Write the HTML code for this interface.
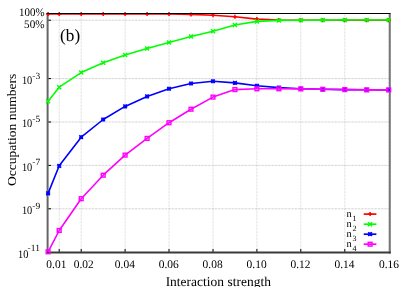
<!DOCTYPE html>
<html><head><meta charset="utf-8"><title>plot</title>
<style>
html,body{margin:0;padding:0;background:#fff;}
body{width:409px;height:287px;overflow:hidden;}
svg{display:block;will-change:transform;}
text{font-family:"Liberation Serif",serif;fill:#000;}
</style></head><body>
<svg width="409" height="287" viewBox="0 0 409 287">
<rect x="0" y="0" width="409" height="287" fill="#fff"/>
<g stroke="#a4a4a4" stroke-width="0.5" stroke-dasharray="0.7,0.73" fill="none">
<line x1="59.2" y1="13.5" x2="59.2" y2="252.5"/>
<line x1="81.2" y1="13.5" x2="81.2" y2="252.5"/>
<line x1="125.1" y1="13.5" x2="125.1" y2="252.5"/>
<line x1="169.0" y1="13.5" x2="169.0" y2="252.5"/>
<line x1="213.0" y1="13.5" x2="213.0" y2="252.5"/>
<line x1="256.9" y1="13.5" x2="256.9" y2="252.5"/>
<line x1="300.8" y1="13.5" x2="300.8" y2="252.5"/>
<line x1="344.8" y1="13.5" x2="344.8" y2="252.5"/>
<line x1="388.7" y1="13.5" x2="388.7" y2="252.5"/>
</g>
<g stroke="#989898" stroke-width="0.6" stroke-dasharray="0.75,0.68" fill="none">
<line x1="47.6" y1="20.2" x2="389.8" y2="20.2"/>
<line x1="47.6" y1="78.6" x2="389.8" y2="78.6"/>
<line x1="47.6" y1="122.0" x2="389.8" y2="122.0"/>
<line x1="47.6" y1="165.4" x2="389.8" y2="165.4"/>
<line x1="47.6" y1="208.8" x2="389.8" y2="208.8"/>
</g>
<g stroke="#000" stroke-width="1" fill="none">
<line x1="59.2" y1="252.5" x2="59.2" y2="249.0"/>
<line x1="81.2" y1="252.5" x2="81.2" y2="249.0"/>
<line x1="125.1" y1="252.5" x2="125.1" y2="249.0"/>
<line x1="169.0" y1="252.5" x2="169.0" y2="249.0"/>
<line x1="213.0" y1="252.5" x2="213.0" y2="249.0"/>
<line x1="256.9" y1="252.5" x2="256.9" y2="249.0"/>
<line x1="300.8" y1="252.5" x2="300.8" y2="249.0"/>
<line x1="344.8" y1="252.5" x2="344.8" y2="249.0"/>
<line x1="47.6" y1="20.2" x2="51.1" y2="20.2"/>
<line x1="47.6" y1="78.6" x2="51.1" y2="78.6"/>
<line x1="47.6" y1="122.0" x2="51.1" y2="122.0"/>
<line x1="47.6" y1="165.4" x2="51.1" y2="165.4"/>
<line x1="47.6" y1="208.8" x2="51.1" y2="208.8"/>
</g>
<line x1="389.8" y1="13.5" x2="389.8" y2="253.5" stroke="#777" stroke-width="2"/>
<line x1="47.6" y1="13.0" x2="47.6" y2="253.5" stroke="#666" stroke-width="2"/>
<line x1="46.6" y1="252.5" x2="390.8" y2="252.5" stroke="#3a3a3a" stroke-width="1.8"/>
<polyline points="48.1,13.9 59.2,13.9 81.2,13.9 103.2,13.9 125.1,13.9 147.1,13.9 169.0,14.0 191.0,14.4 213.0,15.3 234.9,16.8 256.9,19.1 278.9,20.1 300.8,20.2 322.8,20.2 344.8,20.2 366.7,20.2 388.7,20.2" fill="none" stroke="#ff0000" stroke-width="1.6" stroke-linejoin="round"/>
<path d="M46.1,13.9H50.1M48.1,11.9V15.9" stroke="#ff0000" stroke-width="1.5" fill="none"/><path d="M57.2,13.9H61.2M59.2,11.9V15.9" stroke="#ff0000" stroke-width="1.5" fill="none"/><path d="M79.2,13.9H83.2M81.2,11.9V15.9" stroke="#ff0000" stroke-width="1.5" fill="none"/><path d="M101.2,13.9H105.2M103.2,11.9V15.9" stroke="#ff0000" stroke-width="1.5" fill="none"/><path d="M123.1,13.9H127.1M125.1,11.9V15.9" stroke="#ff0000" stroke-width="1.5" fill="none"/><path d="M145.1,13.9H149.1M147.1,11.9V15.9" stroke="#ff0000" stroke-width="1.5" fill="none"/><path d="M167.0,14.0H171.0M169.0,12.0V16.0" stroke="#ff0000" stroke-width="1.5" fill="none"/><path d="M189.0,14.4H193.0M191.0,12.4V16.4" stroke="#ff0000" stroke-width="1.5" fill="none"/><path d="M211.0,15.3H215.0M213.0,13.3V17.3" stroke="#ff0000" stroke-width="1.5" fill="none"/><path d="M232.9,16.8H236.9M234.9,14.8V18.8" stroke="#ff0000" stroke-width="1.5" fill="none"/><path d="M254.9,19.1H258.9M256.9,17.1V21.1" stroke="#ff0000" stroke-width="1.5" fill="none"/><path d="M276.9,20.1H280.9M278.9,18.1V22.1" stroke="#ff0000" stroke-width="1.5" fill="none"/><path d="M298.8,20.2H302.8M300.8,18.2V22.2" stroke="#ff0000" stroke-width="1.5" fill="none"/><path d="M320.8,20.2H324.8M322.8,18.2V22.2" stroke="#ff0000" stroke-width="1.5" fill="none"/><path d="M342.8,20.2H346.8M344.8,18.2V22.2" stroke="#ff0000" stroke-width="1.5" fill="none"/><path d="M364.7,20.2H368.7M366.7,18.2V22.2" stroke="#ff0000" stroke-width="1.5" fill="none"/><path d="M386.7,20.2H390.7M388.7,18.2V22.2" stroke="#ff0000" stroke-width="1.5" fill="none"/>
<polyline points="48.1,101.2 59.2,87.2 81.2,72.6 103.2,62.8 125.1,55.0 147.1,48.5 169.0,42.4 191.0,36.6 213.0,31.2 234.9,25.0 256.9,21.4 278.9,20.4 300.8,20.2 322.8,20.1 344.8,20.0 366.7,20.0 388.7,20.0" fill="none" stroke="#00ff00" stroke-width="1.6" stroke-linejoin="round"/>
<path d="M46.1,99.2L50.1,103.2M46.1,103.2L50.1,99.2" stroke="#00ff00" stroke-width="1.4" fill="none"/><path d="M57.2,85.2L61.2,89.2M57.2,89.2L61.2,85.2" stroke="#00ff00" stroke-width="1.4" fill="none"/><path d="M79.2,70.6L83.2,74.6M79.2,74.6L83.2,70.6" stroke="#00ff00" stroke-width="1.4" fill="none"/><path d="M101.2,60.8L105.2,64.8M101.2,64.8L105.2,60.8" stroke="#00ff00" stroke-width="1.4" fill="none"/><path d="M123.1,53.0L127.1,57.0M123.1,57.0L127.1,53.0" stroke="#00ff00" stroke-width="1.4" fill="none"/><path d="M145.1,46.5L149.1,50.5M145.1,50.5L149.1,46.5" stroke="#00ff00" stroke-width="1.4" fill="none"/><path d="M167.0,40.4L171.0,44.4M167.0,44.4L171.0,40.4" stroke="#00ff00" stroke-width="1.4" fill="none"/><path d="M189.0,34.6L193.0,38.6M189.0,38.6L193.0,34.6" stroke="#00ff00" stroke-width="1.4" fill="none"/><path d="M211.0,29.2L215.0,33.2M211.0,33.2L215.0,29.2" stroke="#00ff00" stroke-width="1.4" fill="none"/><path d="M232.9,23.0L236.9,27.0M232.9,27.0L236.9,23.0" stroke="#00ff00" stroke-width="1.4" fill="none"/><path d="M254.9,19.4L258.9,23.4M254.9,23.4L258.9,19.4" stroke="#00ff00" stroke-width="1.4" fill="none"/><path d="M276.9,18.4L280.9,22.4M276.9,22.4L280.9,18.4" stroke="#00ff00" stroke-width="1.4" fill="none"/><path d="M298.8,18.2L302.8,22.2M298.8,22.2L302.8,18.2" stroke="#00ff00" stroke-width="1.4" fill="none"/><path d="M320.8,18.1L324.8,22.1M320.8,22.1L324.8,18.1" stroke="#00ff00" stroke-width="1.4" fill="none"/><path d="M342.8,18.0L346.8,22.0M342.8,22.0L346.8,18.0" stroke="#00ff00" stroke-width="1.4" fill="none"/><path d="M364.7,18.0L368.7,22.0M364.7,22.0L368.7,18.0" stroke="#00ff00" stroke-width="1.4" fill="none"/><path d="M386.7,18.0L390.7,22.0M386.7,22.0L390.7,18.0" stroke="#00ff00" stroke-width="1.4" fill="none"/>
<polyline points="48.1,193.4 59.2,165.8 81.2,137.2 103.2,119.5 125.1,106.4 147.1,96.4 169.0,88.8 191.0,83.5 213.0,81.3 234.9,82.9 256.9,85.8 278.9,87.6 300.8,88.8 322.8,89.3 344.8,89.6 366.7,89.8 388.7,89.9" fill="none" stroke="#0000ff" stroke-width="1.6" stroke-linejoin="round"/>
<path d="M46.1,193.4H50.1M48.1,191.5V195.3" stroke="#0000ff" stroke-width="1.5" fill="none"/><path d="M46.2,191.6L50.0,195.2M46.2,195.2L50.0,191.6" stroke="#0000ff" stroke-width="1.4" fill="none"/><path d="M57.3,165.8H61.2M59.2,163.9V167.8" stroke="#0000ff" stroke-width="1.5" fill="none"/><path d="M57.4,164.0L61.1,167.7M57.4,167.7L61.1,164.0" stroke="#0000ff" stroke-width="1.4" fill="none"/><path d="M79.2,137.2H83.1M81.2,135.2V139.1" stroke="#0000ff" stroke-width="1.5" fill="none"/><path d="M79.3,135.3L83.0,139.0M79.3,139.0L83.0,135.3" stroke="#0000ff" stroke-width="1.4" fill="none"/><path d="M101.2,119.5H105.1M103.2,117.5V121.5" stroke="#0000ff" stroke-width="1.5" fill="none"/><path d="M101.3,117.7L105.0,121.3M101.3,121.3L105.0,117.7" stroke="#0000ff" stroke-width="1.4" fill="none"/><path d="M123.2,106.4H127.1M125.1,104.5V108.4" stroke="#0000ff" stroke-width="1.5" fill="none"/><path d="M123.3,104.6L127.0,108.2M123.3,108.2L127.0,104.6" stroke="#0000ff" stroke-width="1.4" fill="none"/><path d="M145.1,96.4H149.0M147.1,94.5V98.4" stroke="#0000ff" stroke-width="1.5" fill="none"/><path d="M145.2,94.6L148.9,98.2M145.2,98.2L148.9,94.6" stroke="#0000ff" stroke-width="1.4" fill="none"/><path d="M167.1,88.8H171.0M169.0,86.8V90.8" stroke="#0000ff" stroke-width="1.5" fill="none"/><path d="M167.2,87.0L170.9,90.6M167.2,90.6L170.9,87.0" stroke="#0000ff" stroke-width="1.4" fill="none"/><path d="M189.1,83.5H193.0M191.0,81.5V85.5" stroke="#0000ff" stroke-width="1.5" fill="none"/><path d="M189.2,81.7L192.9,85.3M189.2,85.3L192.9,81.7" stroke="#0000ff" stroke-width="1.4" fill="none"/><path d="M211.0,81.3H214.9M213.0,79.3V83.2" stroke="#0000ff" stroke-width="1.5" fill="none"/><path d="M211.1,79.5L214.8,83.1M211.1,83.1L214.8,79.5" stroke="#0000ff" stroke-width="1.4" fill="none"/><path d="M233.0,82.9H236.9M234.9,81.0V84.9" stroke="#0000ff" stroke-width="1.5" fill="none"/><path d="M233.1,81.1L236.8,84.8M233.1,84.8L236.8,81.1" stroke="#0000ff" stroke-width="1.4" fill="none"/><path d="M255.0,85.8H258.9M256.9,83.8V87.8" stroke="#0000ff" stroke-width="1.5" fill="none"/><path d="M255.1,84.0L258.8,87.6M255.1,87.6L258.8,84.0" stroke="#0000ff" stroke-width="1.4" fill="none"/><path d="M276.9,87.6H280.8M278.9,85.6V89.5" stroke="#0000ff" stroke-width="1.5" fill="none"/><path d="M277.0,85.8L280.7,89.4M277.0,89.4L280.7,85.8" stroke="#0000ff" stroke-width="1.4" fill="none"/><path d="M298.9,88.8H302.8M300.8,86.8V90.8" stroke="#0000ff" stroke-width="1.5" fill="none"/><path d="M299.0,87.0L302.7,90.6M299.0,90.6L302.7,87.0" stroke="#0000ff" stroke-width="1.4" fill="none"/><path d="M320.9,89.3H324.8M322.8,87.3V91.2" stroke="#0000ff" stroke-width="1.5" fill="none"/><path d="M321.0,87.5L324.7,91.1M321.0,91.1L324.7,87.5" stroke="#0000ff" stroke-width="1.4" fill="none"/><path d="M342.8,89.6H346.7M344.8,87.6V91.5" stroke="#0000ff" stroke-width="1.5" fill="none"/><path d="M342.9,87.8L346.6,91.4M342.9,91.4L346.6,87.8" stroke="#0000ff" stroke-width="1.4" fill="none"/><path d="M364.8,89.8H368.7M366.7,87.8V91.8" stroke="#0000ff" stroke-width="1.5" fill="none"/><path d="M364.9,88.0L368.6,91.6M364.9,91.6L368.6,88.0" stroke="#0000ff" stroke-width="1.4" fill="none"/><path d="M386.8,89.9H390.6M388.7,88.0V91.9" stroke="#0000ff" stroke-width="1.5" fill="none"/><path d="M386.8,88.1L390.6,91.8M386.8,91.8L390.6,88.1" stroke="#0000ff" stroke-width="1.4" fill="none"/>
<polyline points="48.1,251.8 59.2,230.5 81.2,198.7 103.2,175.2 125.1,155.1 147.1,138.4 169.0,122.7 191.0,109.2 213.0,97.1 234.9,89.6 256.9,88.8 278.9,88.8 300.8,88.9 322.8,89.3 344.8,89.6 366.7,89.9 388.7,89.9" fill="none" stroke="#ff00ff" stroke-width="1.6" stroke-linejoin="round"/>
<rect x="46.2" y="249.9" width="3.8" height="3.8" stroke="#ff00ff" stroke-width="1.4" fill="none"/><rect x="57.3" y="228.6" width="3.8" height="3.8" stroke="#ff00ff" stroke-width="1.4" fill="none"/><rect x="79.3" y="196.8" width="3.8" height="3.8" stroke="#ff00ff" stroke-width="1.4" fill="none"/><rect x="101.3" y="173.3" width="3.8" height="3.8" stroke="#ff00ff" stroke-width="1.4" fill="none"/><rect x="123.2" y="153.2" width="3.8" height="3.8" stroke="#ff00ff" stroke-width="1.4" fill="none"/><rect x="145.2" y="136.5" width="3.8" height="3.8" stroke="#ff00ff" stroke-width="1.4" fill="none"/><rect x="167.1" y="120.8" width="3.8" height="3.8" stroke="#ff00ff" stroke-width="1.4" fill="none"/><rect x="189.1" y="107.3" width="3.8" height="3.8" stroke="#ff00ff" stroke-width="1.4" fill="none"/><rect x="211.1" y="95.2" width="3.8" height="3.8" stroke="#ff00ff" stroke-width="1.4" fill="none"/><rect x="233.0" y="87.7" width="3.8" height="3.8" stroke="#ff00ff" stroke-width="1.4" fill="none"/><rect x="255.0" y="86.9" width="3.8" height="3.8" stroke="#ff00ff" stroke-width="1.4" fill="none"/><rect x="277.0" y="86.9" width="3.8" height="3.8" stroke="#ff00ff" stroke-width="1.4" fill="none"/><rect x="298.9" y="87.0" width="3.8" height="3.8" stroke="#ff00ff" stroke-width="1.4" fill="none"/><rect x="320.9" y="87.4" width="3.8" height="3.8" stroke="#ff00ff" stroke-width="1.4" fill="none"/><rect x="342.9" y="87.7" width="3.8" height="3.8" stroke="#ff00ff" stroke-width="1.4" fill="none"/><rect x="364.8" y="88.0" width="3.8" height="3.8" stroke="#ff00ff" stroke-width="1.4" fill="none"/><rect x="386.8" y="88.0" width="3.8" height="3.8" stroke="#ff00ff" stroke-width="1.4" fill="none"/>
<line x1="46.6" y1="13.5" x2="390.6" y2="13.5" stroke="#000" stroke-width="1"/>
<line x1="363.7" y1="214.1" x2="376.4" y2="214.1" stroke="#ff0000" stroke-width="1.7"/><path d="M368.1,214.1H372.1M370.1,212.1V216.1" stroke="#ff0000" stroke-width="1.5" fill="none"/><text transform="translate(346.50 216.50) skewX(0.4)" font-size="10.5">n</text><text transform="translate(352.50 220.70) skewX(0.4)" font-size="8">1</text>
<line x1="363.7" y1="224.2" x2="376.4" y2="224.2" stroke="#00ff00" stroke-width="1.7"/><path d="M368.1,222.2L372.1,226.2M368.1,226.2L372.1,222.2" stroke="#00ff00" stroke-width="1.4" fill="none"/><text transform="translate(346.50 226.60) skewX(0.4)" font-size="10.5">n</text><text transform="translate(352.50 230.80) skewX(0.4)" font-size="8">2</text>
<line x1="363.7" y1="234.2" x2="376.4" y2="234.2" stroke="#0000ff" stroke-width="1.7"/><path d="M368.2,234.2H372.1M370.1,232.2V236.1" stroke="#0000ff" stroke-width="1.5" fill="none"/><path d="M368.2,232.3L372.0,236.0M368.2,236.0L372.0,232.3" stroke="#0000ff" stroke-width="1.4" fill="none"/><text transform="translate(346.50 236.60) skewX(0.4)" font-size="10.5">n</text><text transform="translate(352.50 240.80) skewX(0.4)" font-size="8">3</text>
<line x1="363.7" y1="244.2" x2="376.4" y2="244.2" stroke="#ff00ff" stroke-width="1.7"/><rect x="368.2" y="242.3" width="3.8" height="3.8" stroke="#ff00ff" stroke-width="1.4" fill="none"/><text transform="translate(346.50 246.60) skewX(0.4)" font-size="10.5">n</text><text transform="translate(352.50 250.80) skewX(0.4)" font-size="8">4</text>
<text transform="translate(56.42 268.00) skewX(0.4)" font-size="11.5" text-anchor="middle">0.01</text>
<text transform="translate(83.69 268.00) skewX(0.4)" font-size="11.5" text-anchor="middle">0.02</text>
<text transform="translate(124.82 268.00) skewX(0.4)" font-size="11.5" text-anchor="middle">0.04</text>
<text transform="translate(168.75 268.00) skewX(0.4)" font-size="11.5" text-anchor="middle">0.06</text>
<text transform="translate(212.68 268.00) skewX(0.4)" font-size="11.5" text-anchor="middle">0.08</text>
<text transform="translate(256.61 268.00) skewX(0.4)" font-size="11.5" text-anchor="middle">0.10</text>
<text transform="translate(300.54 268.00) skewX(0.4)" font-size="11.5" text-anchor="middle">0.12</text>
<text transform="translate(344.47 268.00) skewX(0.4)" font-size="11.5" text-anchor="middle">0.14</text>
<text transform="translate(389.00 268.00) skewX(0.4)" font-size="11.5" text-anchor="middle">0.16</text>
<text transform="translate(44.70 16.00) skewX(0.4)" font-size="11.5" text-anchor="end" textLength="25.6" lengthAdjust="spacingAndGlyphs">100%</text>
<text transform="translate(44.70 27.60) skewX(0.4)" font-size="11.5" text-anchor="end" textLength="20.6" lengthAdjust="spacingAndGlyphs">50%</text>
<text transform="translate(40.20 78.50) skewX(0.4)" font-size="9.5" text-anchor="end">-3</text><text transform="translate(32.30 83.80) skewX(0.4)" font-size="11.5" text-anchor="end" textLength="10.4" lengthAdjust="spacingAndGlyphs">10</text>
<text transform="translate(40.20 121.90) skewX(0.4)" font-size="9.5" text-anchor="end">-5</text><text transform="translate(32.30 127.20) skewX(0.4)" font-size="11.5" text-anchor="end" textLength="10.4" lengthAdjust="spacingAndGlyphs">10</text>
<text transform="translate(40.20 165.30) skewX(0.4)" font-size="9.5" text-anchor="end">-7</text><text transform="translate(32.30 170.60) skewX(0.4)" font-size="11.5" text-anchor="end" textLength="10.4" lengthAdjust="spacingAndGlyphs">10</text>
<text transform="translate(40.20 208.70) skewX(0.4)" font-size="9.5" text-anchor="end">-9</text><text transform="translate(32.30 214.00) skewX(0.4)" font-size="11.5" text-anchor="end" textLength="10.4" lengthAdjust="spacingAndGlyphs">10</text>
<text transform="translate(39.90 251.40) skewX(0.4)" font-size="9.5" text-anchor="end">-11</text><text transform="translate(28.50 257.90) skewX(0.4)" font-size="11.5" text-anchor="end" textLength="10.4" lengthAdjust="spacingAndGlyphs">10</text>
<text transform="translate(60.00 41.30) skewX(0.4)" font-size="17.3">(b)</text>
<text transform="translate(218.30 285.80) skewX(0.4)" font-size="13.5" text-anchor="middle">Interaction strength</text>
<text transform="translate(15.8,129.9) rotate(-90)" font-size="13.5" text-anchor="middle">Occupation numbers</text>
</svg>
</body></html>
